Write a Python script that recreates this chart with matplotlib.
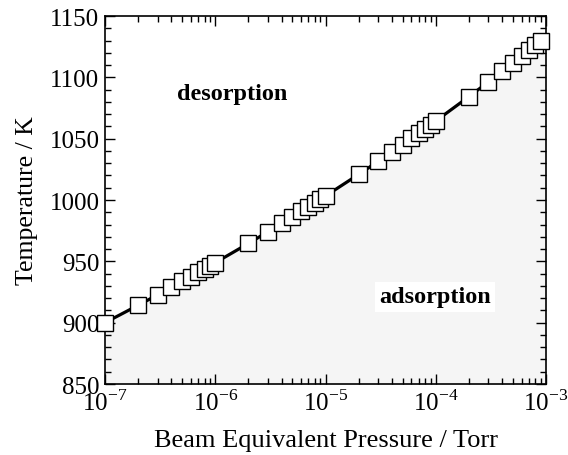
import numpy as np
import matplotlib
matplotlib.use('Agg')
import matplotlib.pyplot as plt
from matplotlib.ticker import LogLocator, MultipleLocator, FixedFormatter

plt.rcParams['font.family'] = ['Liberation Serif', 'DejaVu Serif']
plt.rcParams['mathtext.fontset'] = 'custom'
plt.rcParams['mathtext.rm'] = 'Liberation Serif'

# beam equivalent pressure (Torr), 1..9 per decade
pressure = [m * 10.0 ** e for e in range(-7, -3) for m in range(1, 10)]
# temperature (K)
temperature = [
    900.0, 914.2, 922.7, 928.8, 933.6, 937.6, 940.9, 943.9, 946.5,
    948.9, 964.6, 974.1, 980.9, 986.3, 990.7, 994.5, 997.8, 1000.7,
    1003.3, 1020.9, 1031.5, 1039.2, 1045.2, 1050.2, 1054.4, 1058.1, 1061.4,
    1064.4, 1084.3, 1096.2, 1104.9, 1111.7, 1117.3, 1122.1, 1126.3, 1130.0,
]
p_end = 1e-3
t_end = 1133.4

xtick_vals = [1e-7, 1e-6, 1e-5, 1e-4, 1e-3]
xtick_labels = ['10$^{-7}$', '10$^{-6}$', '10$^{-5}$', '10$^{-4}$', '10$^{-3}$']

fig = plt.figure(figsize=(5.68, 4.56), dpi=100)
ax = fig.add_axes([0.1849, 0.1557, 0.9613 - 0.1849, 0.9627 - 0.1557])

px = pressure + [p_end]
py = temperature + [t_end]
ax.fill_between(px, 850, py, color='#f5f5f5', lw=0, zorder=1)
ax.plot(pressure, temperature, color='black', lw=2.3, zorder=2)
ax.plot(pressure, temperature, ls='none', marker='s', ms=12,
        mfc='white', mec='black', mew=1.0, zorder=3, clip_on=False)

ax.set_xscale('log')
ax.set_xlim(1e-7, 1e-3)
ax.set_ylim(850, 1150)
ax.set_xticks(xtick_vals)
ax.xaxis.set_major_formatter(FixedFormatter(xtick_labels))
ax.xaxis.set_minor_locator(LogLocator(base=10, subs=np.arange(2, 10)))
ax.xaxis.set_minor_formatter(plt.NullFormatter())
ax.yaxis.set_major_locator(MultipleLocator(50))
ax.yaxis.set_minor_locator(MultipleLocator(10))

ax.tick_params(which='both', direction='in', top=True, right=True, width=1.0)
ax.tick_params(which='major', length=7, labelsize=18, pad=4)
ax.tick_params(which='minor', length=4)
for s in ax.spines.values():
    s.set_linewidth(1.2)

ax.set_xlabel('Beam Equivalent Pressure / Torr', fontsize=19, labelpad=10)
ax.set_ylabel('Temperature / K', fontsize=18.5, labelpad=8)

ax.text(1.43e-6, 1087, 'desorption', fontsize=17.5, fontweight='bold',
        ha='center', va='center', zorder=4)
ax.text(0.98e-4, 921, 'adsorption', fontsize=17.5, fontweight='bold',
        ha='center', va='center', zorder=4,
        bbox=dict(facecolor='white', edgecolor='none', pad=3))

fig.savefig('out.png', dpi=100)
